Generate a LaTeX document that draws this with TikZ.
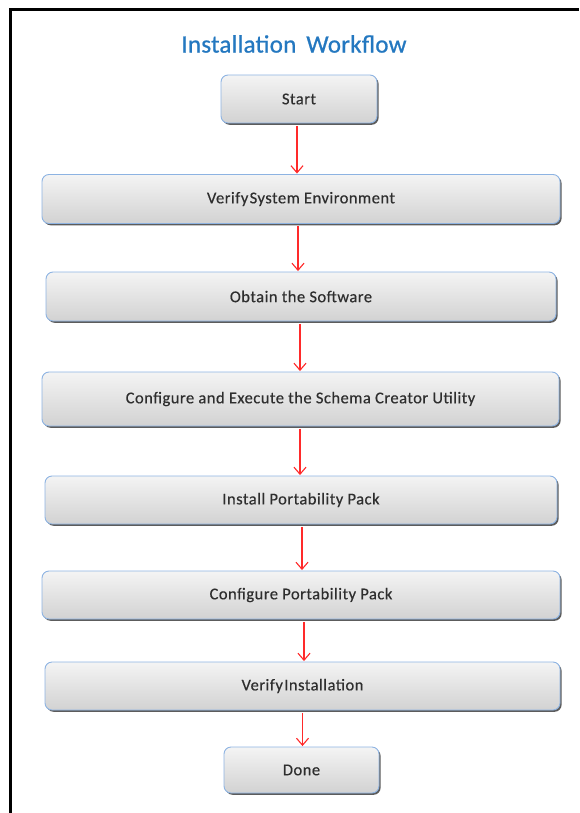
\documentclass[tikz,border=0pt]{standalone}
\usepackage{fontspec}
\setmainfont{Carlito}
\newfontfamily\boxfont[LetterSpace=3,FakeBold=0.4]{Carlito}
\newfontfamily\titlefont[LetterSpace=1,FakeBold=0.8]{Carlito}
\usetikzlibrary{arrows.meta,shadows}
\definecolor{titleblue}{HTML}{2478C0}
\definecolor{boxedge}{HTML}{8DB3E2}
\definecolor{boxtop}{HTML}{F4F4F4}
\definecolor{boxbot}{HTML}{D2D2D2}
\definecolor{txt}{HTML}{2E2E2E}
\definecolor{arrred}{HTML}{FF2A2A}
\tikzset{
  stepbox/.style={draw=boxedge, line width=0.9pt, rounded corners=7pt,
    top color=boxtop, bottom color=boxbot, text=txt,
    font=\boxfont\fontsize{16.5}{18}\selectfont, inner sep=0pt,
    drop shadow={shadow xshift=1.6pt, shadow yshift=-1.8pt, fill=black!75, opacity=0.85}},
  flow/.style={draw=arrred, line width=1.1pt, -{Straight Barb[length=7pt,width=12pt]}, shorten <=2.5pt, shorten >=0.5pt},
}
\begin{document}
\begin{tikzpicture}[x=1pt,y=-1pt]
\useasboundingbox (0,0) rectangle (579,813);
\draw[line width=3pt] (10.5,813) -- (10.5,9.5) -- (579,9.5);
\node[text=titleblue, font=\titlefont\fontsize{25}{27}\selectfont] (title) at (294,44) {Installation\, Workflow};
\node[stepbox, minimum width=156, minimum height=48] (start) at (299,99) {Start};
\node[stepbox, minimum width=518, minimum height=49] (env) at (301,199) {Verify\hspace{0.08em}System Environment};
\node[stepbox, minimum width=510, minimum height=49] (obtain) at (301,296.5) {Obtain the Software};
\node[stepbox, minimum width=517, minimum height=54] (schema) at (300.5,399) {Configure and Execute the Schema Creator Utility};
\node[stepbox, minimum width=512, minimum height=48] (install) at (301,500) {Install Portability Pack};
\node[stepbox, minimum width=518, minimum height=48] (config) at (301,595) {Configure Portability Pack};
\node[stepbox, minimum width=515, minimum height=48] (verify) at (302.5,686) {Verify\hspace{0.08em}Installation};
\node[stepbox, minimum width=155, minimum height=46] (done) at (301.5,770) {Done};
\draw[flow] ([xshift=-2pt]start.south) -- ([xshift=-2pt]start.south |- env.north);
\draw[flow] ([xshift=-3pt]env.south) -- ([xshift=-3pt]env.south |- obtain.north);
\draw[flow] ([xshift=-1pt]obtain.south) -- ([xshift=-1pt]obtain.south |- schema.north);
\draw[flow] ([xshift=-0.5pt]schema.south) -- ([xshift=-0.5pt]schema.south |- install.north);
\draw[flow] ([xshift=1pt]install.south) -- ([xshift=1pt]install.south |- config.north);
\draw[flow] ([xshift=3pt]config.south) -- ([xshift=3pt]config.south |- verify.north);
\draw[flow] ([xshift=0pt]verify.south) -- ([xshift=0pt]verify.south |- done.north);
\end{tikzpicture}
\end{document}
